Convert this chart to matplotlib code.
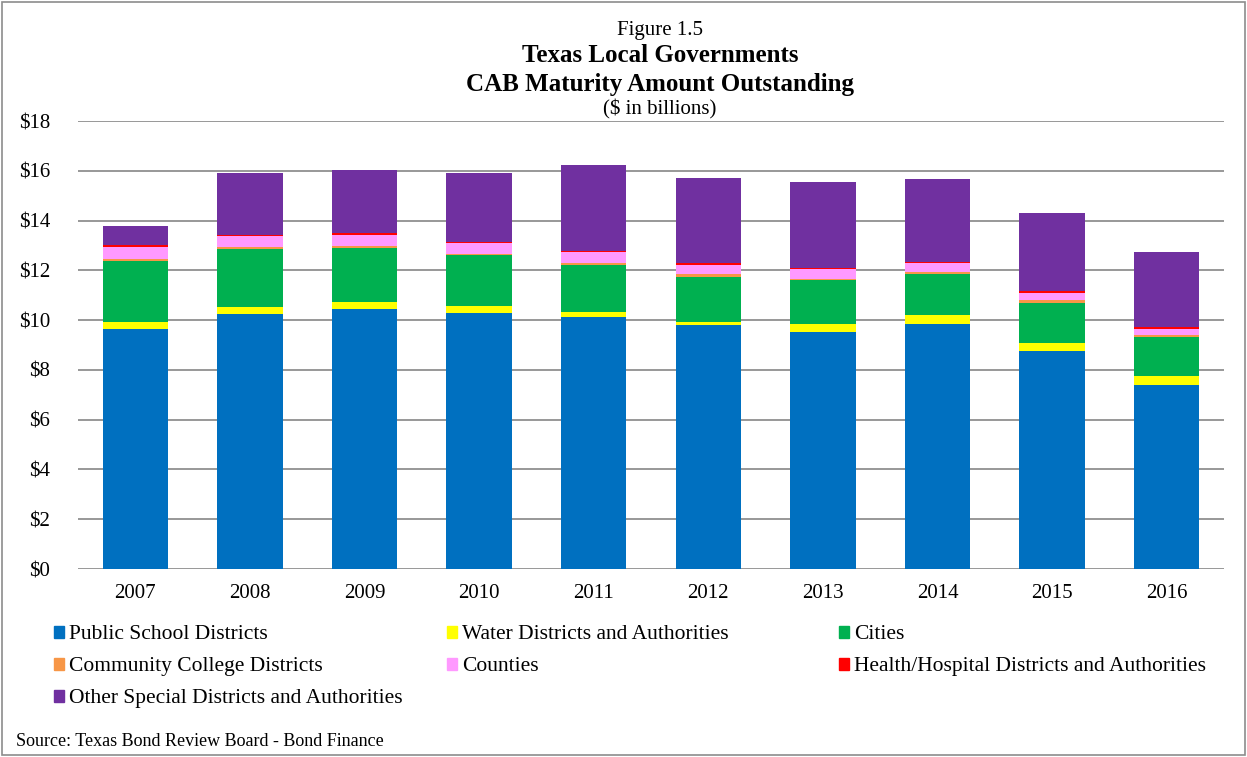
import matplotlib
matplotlib.use('Agg')
import matplotlib.pyplot as plt
import numpy as np
from matplotlib.patches import Rectangle

plt.rcParams['font.family'] = ['Liberation Serif', 'DejaVu Serif']

years = ['2007', '2008', '2009', '2010', '2011', '2012', '2013', '2014', '2015', '2016']

school = [9.64, 10.26, 10.45, 10.30, 10.14, 9.79, 9.51, 9.86, 8.75, 7.40]
water = [0.30, 0.27, 0.26, 0.27, 0.19, 0.15, 0.35, 0.33, 0.34, 0.34]
cities = [2.45, 2.31, 2.20, 2.03, 1.90, 1.80, 1.75, 1.66, 1.61, 1.57]
college = [0.05, 0.10, 0.08, 0.07, 0.08, 0.11, 0.05, 0.09, 0.10, 0.10]
counties = [0.48, 0.44, 0.43, 0.42, 0.44, 0.38, 0.38, 0.34, 0.29, 0.24]
health = [0.08, 0.04, 0.08, 0.06, 0.02, 0.06, 0.06, 0.05, 0.07, 0.07]
other = [0.77, 2.49, 2.54, 2.75, 3.48, 3.42, 3.44, 3.34, 3.13, 3.03]

series = [
    ('Public School Districts', school, '#0070C0'),
    ('Water Districts and Authorities', water, '#FFFF00'),
    ('Cities', cities, '#00B050'),
    ('Community College Districts', college, '#F79646'),
    ('Counties', counties, '#FF99FF'),
    ('Health/Hospital Districts and Authorities', health, '#FF0000'),
    ('Other Special Districts and Authorities', other, '#7030A0'),
]

W, H = 1247, 757
fig = plt.figure(figsize=(W / 100, H / 100), dpi=100)
ax = fig.add_axes([78 / W, 1 - 569 / H, 1146 / W, 448 / H])

x = np.arange(len(years))
bottom = np.zeros(len(years))
for name, vals, color in series:
    vals = np.array(vals)
    ax.bar(x, vals, 0.57, bottom=bottom, color=color, edgecolor='none',
           label=name, zorder=3)
    bottom += vals

ax.set_xlim(-0.5, len(years) - 0.5)
ax.set_ylim(0, 18)
ax.set_yticks(np.arange(0, 19, 2))
ax.set_yticklabels(['$%d' % v for v in range(0, 19, 2)], fontsize=15)
ax.set_xticks(x)
ax.set_xticklabels(years, fontsize=15)
ax.tick_params(length=0)
ax.tick_params(axis='x', pad=11)
ax.tick_params(axis='y', pad=20)
ax.grid(axis='y', color='#909090', linewidth=1.3, zorder=0)
for s in ax.spines.values():
    s.set_visible(False)

# titles
tx = 660 / W
fig.text(tx, 1 - 31 / H, 'Figure 1.5', ha='center', va='center', fontsize=15)
fig.text(tx, 1 - 56 / H, 'Texas Local Governments', ha='center', va='center',
         fontsize=18, fontweight='bold')
fig.text(tx, 1 - 84 / H, 'CAB Maturity Amount Outstanding', ha='center', va='center',
         fontsize=18, fontweight='bold')
fig.text(tx, 1 - 109 / H, '($ in billions)', ha='center', va='center', fontsize=15)

# legend laid out in three columns
cols = [54, 447, 839]
rows = [632, 664, 696]
for i, (name, vals, color) in enumerate(series):
    cx = cols[i % 3]
    cy = rows[i // 3]
    fig.patches.append(Rectangle((cx / W, 1 - (cy + 6) / H), 10 / W, 12 / H,
                                 transform=fig.transFigure, color=color))
    fig.text((cx + 15) / W, 1 - (cy + 7) / H, name, ha='left', va='baseline',
             fontsize=15.5)

fig.text(16 / W, 1 - 742 / H, 'Source: Texas Bond Review Board - Bond Finance',
         ha='left', va='center', fontsize=13)

# outer frame
fig.patches.append(Rectangle((2 / W, 2 / H), 1 - 4 / W, 1 - 4 / H,
                             transform=fig.transFigure, fill=False,
                             edgecolor='#8c8c8c', linewidth=1.2))

fig.savefig('out.png', dpi=100)
